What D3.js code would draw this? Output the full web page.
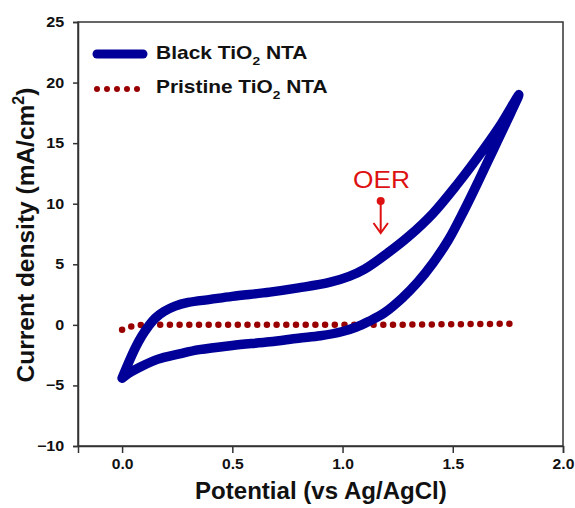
<!DOCTYPE html>
<html><head><meta charset="utf-8">
<script src="https://cdn.jsdelivr.net/npm/d3@7"></script>
<style>body{margin:0;background:#fff}svg{display:block}</style>
</head><body>
<svg id="c" width="575" height="508"></svg>
<script>
// Black TiO2 NTA: forward (upper) then reverse (lower) scan
const blackV = [0.00,0.03,0.06,0.09,0.12,0.15,0.19,0.24,0.30,0.40,0.50,0.67,0.80,0.94,1.03,1.10,1.21,1.30,1.41,1.52,1.64,1.72,1.80,
                1.74,1.68,1.62,1.55,1.48,1.41,1.34,1.27,1.19,1.12,1.06,1.00,0.90,0.80,0.67,0.50,0.35,0.26,0.16,0.08,0.03,0.00];
const blackJ = [-4.4,-3.1,-1.9,-0.9,-0.1,0.55,1.1,1.55,1.85,2.1,2.35,2.7,3.05,3.5,4.0,4.6,6.0,7.3,9.2,11.6,14.5,16.6,19.0,
                16.6,14.3,12.0,9.4,7.0,5.1,3.5,2.2,1.0,0.3,-0.2,-0.55,-0.9,-1.1,-1.4,-1.7,-2.05,-2.4,-2.85,-3.5,-4.0,-4.4];
// Pristine TiO2 NTA
const pristV = [0.00,0.03,0.06,0.10,0.50,1.00,1.50,1.80];
const pristJ = [-0.4,-0.2,-0.05,0.0,0.0,0.0,0.05,0.1];
const xTicks = [0.0,0.5,1.0,1.5,2.0];
const yTicks = [-10,-5,0,5,10,15,20,25];
const seriesNames = ["Black TiO", "Pristine TiO"];

const svg = d3.select("#c");
const L=78,R=563,T=22,B=446;
const x = d3.scaleLinear().domain([-0.2,2.0]).range([L,R]);
const y = d3.scaleLinear().domain([-10,25]).range([B,T]);
const font = "Arial, 'Liberation Sans', sans-serif";

// horizontally fit a text element (placed at 0,0) to a target width
function fit(g, t, x0, y0, w, anchor) {
  const bw = t.node().getBBox().width;
  const s = w / bw;
  const tx = anchor === "middle" ? x0 - w/2 : x0;
  g.attr("transform", `translate(${tx},${y0}) scale(${s},1)`);
}

// frame
svg.append("rect").attr("x",L).attr("y",T).attr("width",R-L).attr("height",B-T)
  .attr("fill","none").attr("stroke","#333").attr("stroke-width",1.5);

const xa = svg.append("g").attr("transform",`translate(0,${B})`)
  .call(d3.axisBottom(x).tickValues(xTicks).tickFormat(d3.format(".1f")).tickSize(7).tickPadding(6));
const ya = svg.append("g").attr("transform",`translate(${L},0)`)
  .call(d3.axisLeft(y).tickValues(yTicks).tickFormat(d3.format("d")).tickSize(5).tickPadding(7));
[xa,ya].forEach(a=>{
  a.select(".domain").attr("stroke","#333").attr("stroke-width",1.5);
  a.selectAll(".tick line").attr("stroke","#333").attr("stroke-width",1.5);
  a.selectAll(".tick text").attr("font-family",font).attr("font-size",14).attr("font-weight","bold").attr("fill","#111");
});
xa.selectAll(".tick text").attr("transform","scale(1.12,1)");
ya.selectAll(".tick text").attr("transform","scale(1.15,1)");

// curves
const blackPts = blackV.map((v,i)=>[v,blackJ[i]]);
const pristPts = pristV.map((v,i)=>[v,pristJ[i]]);
svg.append("path").datum(pristPts)
  .attr("d",d3.line().x(d=>x(d[0])).y(d=>y(d[1])).curve(d3.curveMonotoneX))
  .attr("fill","none").attr("stroke","#990000").attr("stroke-width",6.5)
  .attr("stroke-linecap","round").attr("stroke-dasharray","0,9.7");
svg.append("path").datum(blackPts)
  .attr("d",d3.line().x(d=>x(d[0])).y(d=>y(d[1])).curve(d3.curveCatmullRom.alpha(0.5)))
  .attr("fill","none").attr("stroke","#000099").attr("stroke-width",9.5)
  .attr("stroke-linecap","round").attr("stroke-linejoin","round");

// legend
svg.append("line").attr("x1",97).attr("x2",143).attr("y1",54).attr("y2",54)
  .attr("stroke","#000099").attr("stroke-width",9).attr("stroke-linecap","round");
svg.append("line").attr("x1",97).attr("x2",137.5).attr("y1",89).attr("y2",89)
  .attr("stroke","#990000").attr("stroke-width",6).attr("stroke-linecap","round").attr("stroke-dasharray","0,10");
[[58.5,seriesNames[0],152],[93,seriesNames[1],172]].forEach(([by,name,w])=>{
  const g = svg.append("g");
  const t = g.append("text").attr("font-family",font)
    .attr("font-size",17.5).attr("font-weight","bold").attr("fill","#111");
  t.append("tspan").text(name);
  t.append("tspan").attr("font-size",11.5).attr("dy",6).text("2");
  t.append("tspan").attr("dy",-6).text(" NTA");
  fit(g,t,156,by,w,"start");
});

// OER annotation
{
  const g = svg.append("g");
  const t = g.append("text").attr("font-family",font).attr("font-size",23).attr("fill","#dd1111").text("OER");
  fit(g,t,381.5,187.5,57,"middle");
}
svg.append("circle").attr("cx",380.7).attr("cy",201).attr("r",4).attr("fill","#dd1111");
svg.append("line").attr("x1",380.7).attr("x2",380.7).attr("y1",201).attr("y2",232)
  .attr("stroke","#dd1111").attr("stroke-width",2);
svg.append("path").attr("d","M373.5,223 L380.7,233 L388,223").attr("fill","none")
  .attr("stroke","#dd1111").attr("stroke-width",2);

// axis titles
{
  const g = svg.append("g");
  const t = g.append("text").attr("font-family",font).attr("font-size",23).attr("font-weight","bold").attr("fill","#111")
    .text("Potential (vs Ag/AgCl)");
  fit(g,t,321,499,252,"middle");
}
const yt = svg.append("text").attr("transform",`translate(34,${(T+B)/2+1}) rotate(-90)`).attr("text-anchor","middle")
  .attr("font-family",font).attr("font-size",24.5).attr("font-weight","bold").attr("fill","#111");
yt.append("tspan").text("Current density (mA/cm");
yt.append("tspan").attr("font-size",16).attr("dy",-10).text("2");
yt.append("tspan").attr("dy",10).text(")");
</script>
</body></html>
